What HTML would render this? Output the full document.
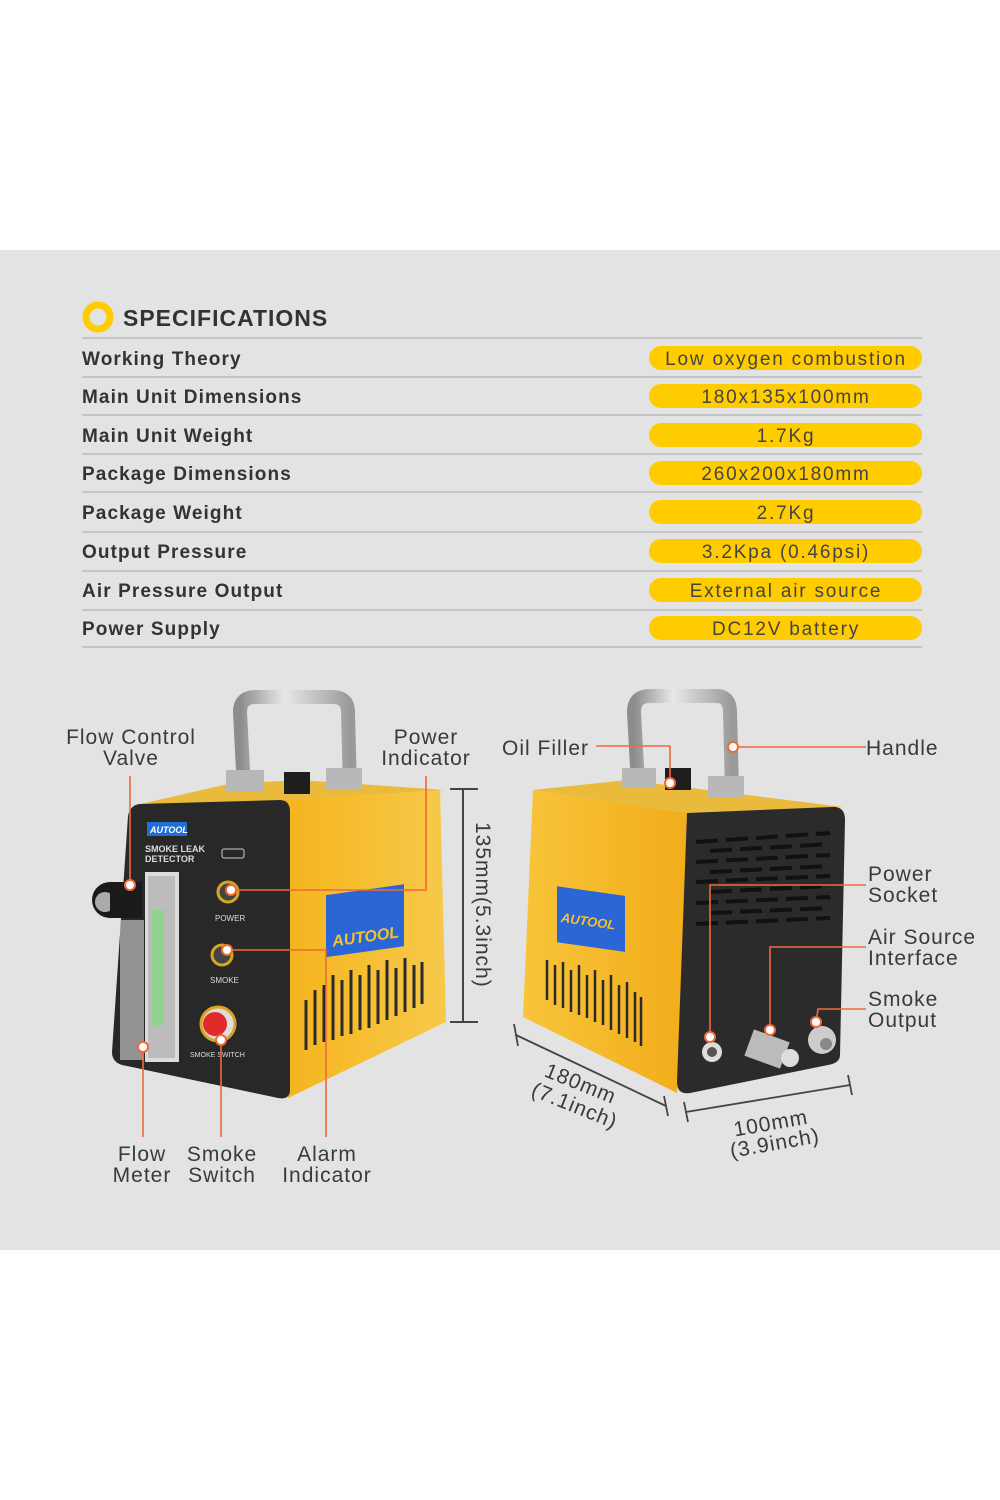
<!DOCTYPE html>
<html><head><meta charset="utf-8">
<style>
html,body{margin:0;padding:0;background:#fff;}
svg{display:block;font-family:"Liberation Sans",sans-serif;}
.lbl{font-size:21px;fill:#3a3a3a;letter-spacing:1px;}
.row{font-size:19px;font-weight:bold;fill:#333;letter-spacing:1.1px;}
.pill{font-size:19px;fill:#444;letter-spacing:1.8px;}
</style></head><body>
<svg width="1000" height="1500" viewBox="0 0 1000 1500" xmlns="http://www.w3.org/2000/svg">
<defs>
<linearGradient id="yel" x1="0" y1="0" x2="1" y2="0"><stop offset="0" stop-color="#f5b41c"/><stop offset="1" stop-color="#f7c94a"/></linearGradient>
<linearGradient id="yel2" x1="0" y1="0" x2="1" y2="0"><stop offset="0" stop-color="#f8c43a"/><stop offset="1" stop-color="#f2ad1a"/></linearGradient>
<linearGradient id="chrome" x1="0" y1="0" x2="1" y2="0"><stop offset="0" stop-color="#8c8c8c"/><stop offset=".4" stop-color="#e8e8e8"/><stop offset="1" stop-color="#9a9a9a"/></linearGradient>
</defs>
<rect x="0" y="250" width="1000" height="1000" fill="#e3e3e3"/>
<circle cx="98" cy="317" r="12" fill="none" stroke="#ffcc00" stroke-width="7"/>
<text x="123" y="326" font-size="23" font-weight="bold" fill="#333" letter-spacing="1">SPECIFICATIONS</text>
<g stroke="#c4c4c4" stroke-width="2">
<line x1="82" y1="338" x2="922" y2="338"/><line x1="82" y1="377" x2="922" y2="377"/><line x1="82" y1="415" x2="922" y2="415"/><line x1="82" y1="454" x2="922" y2="454"/><line x1="82" y1="492" x2="922" y2="492"/><line x1="82" y1="532" x2="922" y2="532"/><line x1="82" y1="571" x2="922" y2="571"/><line x1="82" y1="610" x2="922" y2="610"/><line x1="82" y1="647" x2="922" y2="647"/>
</g>
<g fill="#ffcc00">
<rect x="649" y="346" width="273" height="24" rx="12"/><rect x="649" y="384" width="273" height="24" rx="12"/><rect x="649" y="423" width="273" height="24" rx="12"/><rect x="649" y="461" width="273" height="24" rx="12"/><rect x="649" y="500" width="273" height="24" rx="12"/><rect x="649" y="539" width="273" height="24" rx="12"/><rect x="649" y="578" width="273" height="24" rx="12"/><rect x="649" y="616" width="273" height="24" rx="12"/>
</g>
<g class="row">
<text x="82" y="365">Working Theory</text><text x="82" y="403">Main Unit Dimensions</text><text x="82" y="442">Main Unit Weight</text><text x="82" y="480">Package Dimensions</text><text x="82" y="519">Package Weight</text><text x="82" y="558">Output Pressure</text><text x="82" y="597">Air Pressure Output</text><text x="82" y="635">Power Supply</text>
</g>
<g class="pill" text-anchor="middle">
<text x="786" y="365">Low oxygen combustion</text><text x="786" y="403">180x135x100mm</text><text x="786" y="442">1.7Kg</text><text x="786" y="480">260x200x180mm</text><text x="786" y="519">2.7Kg</text><text x="786" y="558">3.2Kpa (0.46psi)</text><text x="786" y="597">External air source</text><text x="786" y="635">DC12V  battery</text>
</g>

<!-- LEFT DEVICE -->
<path d="M244 790 L240 712 Q240 697 256 697 L332 697 Q348 697 348 712 L350 790" fill="none" stroke="url(#chrome)" stroke-width="14"/>
<polygon points="132,806 284,800 445,790 300,780 228,784" fill="#e9ba3c"/>
<rect x="226" y="770" width="38" height="22" fill="#b8b8b8"/><rect x="326" y="768" width="36" height="22" fill="#b8b8b8"/>
<rect x="284" y="772" width="26" height="22" fill="#1e1e1e"/>
<polygon points="284,800 440,790 446,1022 288,1098" fill="url(#yel)"/>
<path d="M140 804 L280 800 Q290 800 290 812 L290 1090 Q290 1100 278 1098 L122 1065 Q112 1062 112 1052 L128 816 Q130 805 140 804 Z" fill="#282828"/>
<rect x="147" y="822" width="40" height="14" fill="#1f6fd6"/>
<text x="150" y="833" font-size="9" font-weight="bold" font-style="italic" fill="#fff">AUTOOL</text>
<text x="145" y="852" font-size="9" fill="#ddd" font-weight="bold">SMOKE LEAK</text>
<text x="145" y="862" font-size="9" fill="#ddd" font-weight="bold">DETECTOR</text>
<rect x="222" y="849" width="22" height="9" rx="2" fill="none" stroke="#ccc"/>
<rect x="145" y="872" width="34" height="190" fill="#dcdcdc"/><rect x="148" y="876" width="27" height="182" fill="#bcbcbc"/>
<rect x="152" y="910" width="12" height="115" fill="#8fd38f"/>
<rect x="120" y="920" width="24" height="140" fill="#c0c0c0" opacity=".7"/>
<circle cx="110" cy="900" r="18" fill="#1a1a1a"/><circle cx="105" cy="902" r="10" fill="#aaa"/><rect x="110" y="882" width="32" height="36" fill="#1a1a1a"/>
<circle cx="228" cy="892" r="10" fill="#444" stroke="#d8a520" stroke-width="3"/><text x="215" y="921" font-size="8" fill="#ddd">POWER</text>
<circle cx="222" cy="955" r="10" fill="#444" stroke="#d8a520" stroke-width="3"/><text x="210" y="983" font-size="8" fill="#ddd">SMOKE</text>
<circle cx="218" cy="1024" r="17" fill="#ddd" stroke="#d8a520" stroke-width="3"/><circle cx="215" cy="1024" r="12" fill="#e32a2a"/>
<text x="190" y="1057" font-size="7" fill="#ddd">SMOKE SWITCH</text>
<rect x="326" y="893" width="78" height="62" fill="#2a66d6" transform="skewY(-8) translate(0,48)"/>
<text x="331" y="942" font-size="16" font-weight="bold" font-style="italic" fill="#f6c22a" transform="rotate(-8 365 930)">AUTOOL</text>
<g stroke="#2a2a2a" stroke-width="3">
<line x1="306" y1="1000" x2="306" y2="1050"/><line x1="315" y1="990" x2="315" y2="1045"/><line x1="324" y1="985" x2="324" y2="1042"/><line x1="333" y1="975" x2="333" y2="1040"/><line x1="342" y1="980" x2="342" y2="1036"/><line x1="351" y1="970" x2="351" y2="1034"/><line x1="360" y1="975" x2="360" y2="1030"/><line x1="369" y1="965" x2="369" y2="1028"/><line x1="378" y1="970" x2="378" y2="1024"/><line x1="387" y1="960" x2="387" y2="1020"/><line x1="396" y1="968" x2="396" y2="1016"/><line x1="405" y1="958" x2="405" y2="1012"/><line x1="414" y1="965" x2="414" y2="1008"/><line x1="422" y1="962" x2="422" y2="1004"/>
</g>
<g stroke="#444" stroke-width="2"><line x1="463" y1="789" x2="463" y2="1022"/><line x1="450" y1="789" x2="478" y2="789"/><line x1="450" y1="1022" x2="478" y2="1022"/></g>
<text x="0" y="0" class="lbl" transform="translate(476 822) rotate(90)">135mm(5.3inch)</text>
<g stroke="#ef6a3a" stroke-width="1.6" fill="none">
<polyline points="130,776 130,885"/>
<polyline points="426,776 426,890 231,890"/>
<polyline points="326,1137 326,950 227,950"/>
<polyline points="221,1137 221,1040"/>
<polyline points="143,1137 143,1047"/>
</g>
<g fill="#fff" stroke="#ef6a3a" stroke-width="2">
<circle cx="130" cy="885" r="5"/><circle cx="231" cy="890" r="5"/><circle cx="227" cy="950" r="5"/><circle cx="221" cy="1040" r="5"/><circle cx="143" cy="1047" r="5"/>
</g>
<g class="lbl" text-anchor="middle">
<text x="131" y="744">Flow Control</text><text x="131" y="765">Valve</text>
<text x="426" y="744">Power</text><text x="426" y="765">Indicator</text>
<text x="142" y="1161">Flow</text><text x="142" y="1182">Meter</text>
<text x="222" y="1161">Smoke</text><text x="222" y="1182">Switch</text>
<text x="327" y="1161">Alarm</text><text x="327" y="1182">Indicator</text>
</g>

<!-- RIGHT DEVICE -->
<path d="M638 785 L634 712 Q634 696 650 696 L716 696 Q730 696 730 712 L732 790" fill="none" stroke="url(#chrome)" stroke-width="14"/>
<polygon points="533,790 627,780 843,807 687,813" fill="#e9ba3c"/>
<rect x="622" y="768" width="34" height="20" fill="#b8b8b8"/><rect x="708" y="776" width="36" height="22" fill="#b8b8b8"/>
<rect x="665" y="768" width="26" height="22" fill="#1e1e1e"/>
<polygon points="533,790 687,813 677,1093 523,1017" fill="url(#yel2)"/>
<path d="M687 813 L832 807 Q845 806 845 820 L840 1055 Q840 1063 828 1065 L690 1093 Q677 1095 677 1082 Z" fill="#2b2b2b"/>
<g stroke="#111" stroke-width="4">
<line x1="696" y1="842" x2="830" y2="833" stroke-dasharray="22 8"/>
<line x1="710" y1="851" x2="830" y2="844" stroke-dasharray="22 8"/>
<line x1="696" y1="862" x2="830" y2="855" stroke-dasharray="22 8"/>
<line x1="710" y1="872" x2="830" y2="866" stroke-dasharray="22 8"/>
<line x1="696" y1="882" x2="830" y2="876" stroke-dasharray="22 8"/>
<line x1="710" y1="892" x2="830" y2="886" stroke-dasharray="22 8"/>
<line x1="696" y1="903" x2="830" y2="897" stroke-dasharray="22 8"/>
<line x1="710" y1="913" x2="830" y2="908" stroke-dasharray="22 8"/>
<line x1="696" y1="924" x2="830" y2="918" stroke-dasharray="22 8"/>
</g>
<circle cx="712" cy="1052" r="10" fill="#ddd"/><circle cx="712" cy="1052" r="5" fill="#555"/>
<rect x="748" y="1035" width="38" height="28" fill="#bbb" transform="rotate(20 767 1049)"/><circle cx="790" cy="1058" r="9" fill="#ddd"/>
<circle cx="822" cy="1040" r="14" fill="#ccc"/><circle cx="826" cy="1044" r="6" fill="#888"/>
<rect x="557" y="888" width="68" height="56" fill="#2a66d6" transform="skewY(8) translate(0,-80)"/>
<text x="561" y="926" font-size="13" font-weight="bold" font-style="italic" fill="#f6c22a" transform="rotate(8 590 920)">AUTOOL</text>
<g stroke="#2a2a2a" stroke-width="2.5">
<line x1="547" y1="960" x2="547" y2="1000"/><line x1="555" y1="965" x2="555" y2="1005"/><line x1="563" y1="962" x2="563" y2="1008"/><line x1="571" y1="970" x2="571" y2="1012"/><line x1="579" y1="965" x2="579" y2="1015"/><line x1="587" y1="975" x2="587" y2="1018"/><line x1="595" y1="970" x2="595" y2="1022"/><line x1="603" y1="980" x2="603" y2="1025"/><line x1="611" y1="975" x2="611" y2="1030"/><line x1="619" y1="985" x2="619" y2="1034"/><line x1="627" y1="982" x2="627" y2="1038"/><line x1="635" y1="992" x2="635" y2="1042"/><line x1="641" y1="997" x2="641" y2="1046"/>
</g>
<g stroke="#444" stroke-width="1.8">
<line x1="516" y1="1035" x2="666" y2="1106"/><line x1="514" y1="1024" x2="518" y2="1046"/><line x1="664" y1="1096" x2="668" y2="1116"/>
<line x1="686" y1="1112" x2="850" y2="1085"/><line x1="684" y1="1102" x2="688" y2="1122"/><line x1="848" y1="1075" x2="852" y2="1095"/>
</g>
<g class="lbl" text-anchor="middle">
<text transform="translate(578 1090) rotate(22)">180mm</text>
<text transform="translate(572 1112) rotate(22)">(7.1inch)</text>
<text transform="translate(772 1130) rotate(-10)">100mm</text>
<text transform="translate(776 1150) rotate(-10)">(3.9inch)</text>
</g>
<g stroke="#ef6a3a" stroke-width="1.6" fill="none">
<polyline points="596,746 670,746 670,783"/>
<polyline points="733,747 866,747"/>
<polyline points="866,885 710,885 710,1037"/>
<polyline points="866,947 770,947 770,1030"/>
<polyline points="866,1009 818,1009 816,1022"/>
</g>
<g fill="#fff" stroke="#ef6a3a" stroke-width="2">
<circle cx="670" cy="783" r="5"/><circle cx="733" cy="747" r="5"/><circle cx="710" cy="1037" r="5"/><circle cx="770" cy="1030" r="5"/><circle cx="816" cy="1022" r="5"/>
</g>
<g class="lbl">
<text x="502" y="755">Oil Filler</text>
<text x="866" y="755">Handle</text>
<text x="868" y="881">Power</text><text x="868" y="902">Socket</text>
<text x="868" y="944">Air Source</text><text x="868" y="965">Interface</text>
<text x="868" y="1006">Smoke</text><text x="868" y="1027">Output</text>
</g>
</svg>
</body></html>
